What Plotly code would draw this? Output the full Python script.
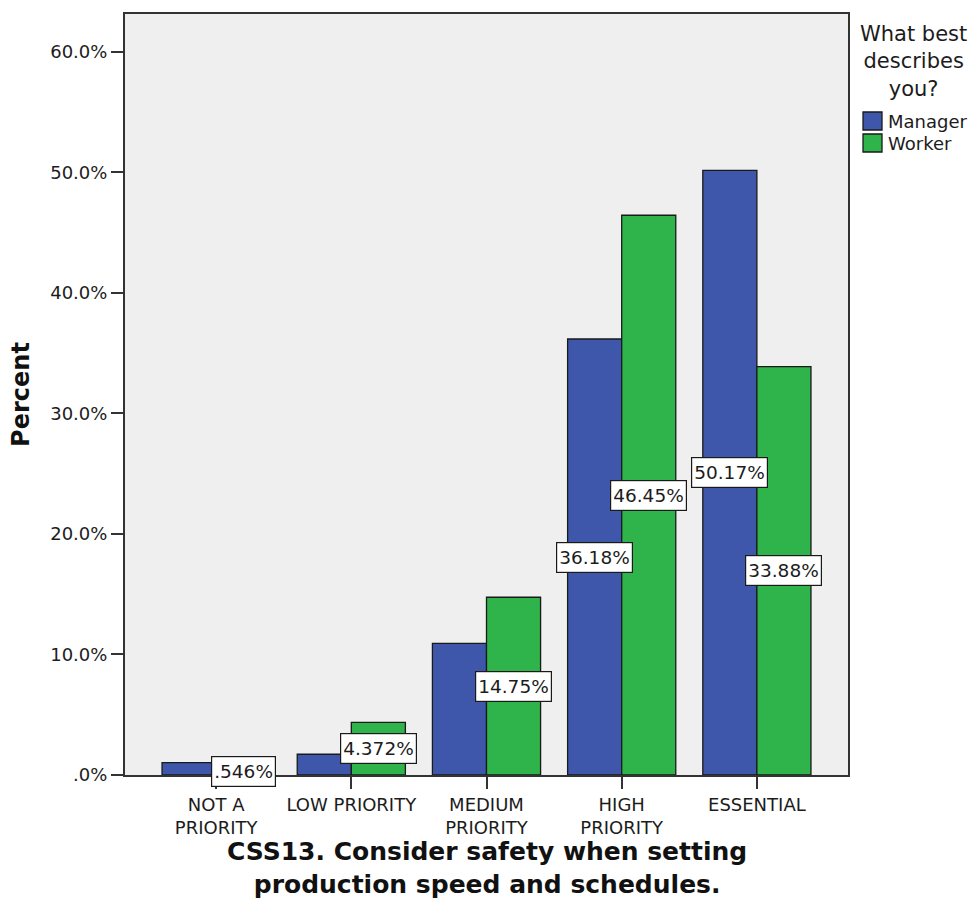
import plotly.graph_objects as go

# Response categories (x axis) and percentages per respondent group
categories = ["NOT A<br>PRIORITY", "LOW PRIORITY", "MEDIUM<br>PRIORITY", "HIGH<br>PRIORITY", "ESSENTIAL"]
manager_pct = [1.02, 1.72, 10.93, 36.18, 50.17]
worker_pct = [0.546, 4.372, 14.75, 46.45, 33.88]

# Which bars carry a value label
manager_labelled = [False, False, False, True, True]
worker_labelled = [True, True, True, True, True]

y_ticks = [0, 10, 20, 30, 40, 50, 60]
y_ticktext = [".0%", "10.0%", "20.0%", "30.0%", "40.0%", "50.0%", "60.0%"]

series_names = ["Manager", "Worker"]
legend_title = "What best<br>describes<br>you?"
x_title = "CSS13. Consider safety when setting<br>production speed and schedules."

MANAGER_COLOR = "#3E57AA"
WORKER_COLOR = "#2EB44A"
FONT = "DejaVu Sans"
INK = "#1c1c1c"
OUTLINE = "#1a1a1a"

# Plot-area geometry in pixels (used to place legend and title in paper units)
W, H = 976, 901
M_L, M_R, M_T, M_B = 125, 128, 14, 126
PW, PH = W - M_L - M_R, H - M_T - M_B


def px_x(p):
    return (p - M_L) / PW


def px_y(p):
    return (H - M_B - p) / PH


def pct_label(v):
    s = f"{v:.4g}"
    if s.startswith("0."):
        s = s[1:]
    return s + "%"


colors = [MANAGER_COLOR, WORKER_COLOR]

fig = go.Figure()
for name, vals, col in zip(series_names, (manager_pct, worker_pct), colors):
    fig.add_trace(go.Bar(
        name=name, x=categories, y=vals, showlegend=False,
        marker=dict(color=col, line=dict(color=OUTLINE, width=1.3)),
    ))

# Boxed value labels at half the bar height, centred on each bar
annotations = []
for series, flags, offset in ((manager_pct, manager_labelled, -0.2),
                              (worker_pct, worker_labelled, 0.2)):
    for i, (v, show) in enumerate(zip(series, flags)):
        if not show:
            continue
        annotations.append(dict(
            x=i + offset, y=v / 2, xref="x", yref="y",
            text=pct_label(v), showarrow=False,
            font=dict(family=FONT, size=18.5, color=INK),
            height=25, borderpad=2,
            bgcolor="white", bordercolor=OUTLINE, borderwidth=1.2,
        ))

# Legend: centred title, square swatches with item names
annotations.append(dict(
    x=px_x(914), y=px_y(62), xref="paper", yref="paper",
    text=legend_title, showarrow=False, align="center",
    xanchor="center", yanchor="middle",
    font=dict(family=FONT, size=21, color=INK),
))
shapes = []
item_centres = [121, 143]
for name, col, cy in zip(series_names, colors, item_centres):
    shapes.append(dict(
        type="rect", xref="paper", yref="paper",
        x0=px_x(863), x1=px_x(882), y0=px_y(cy + 9), y1=px_y(cy - 9),
        fillcolor=col, line=dict(color=OUTLINE, width=1.3),
    ))
    annotations.append(dict(
        x=px_x(886), y=px_y(cy), xref="paper", yref="paper",
        text=name, showarrow=False, xanchor="left", yanchor="middle",
        font=dict(family=FONT, size=18, color=INK),
    ))

# Two-line bold x-axis title below the category labels
annotations.append(dict(
    x=0.5, y=px_y(900), xref="paper", yref="paper",
    text=f"<b>{x_title}</b>", showarrow=False, align="center",
    xanchor="center", yanchor="bottom", borderpad=0,
    font=dict(family=FONT, size=25, color="#111111"),
))

fig.update_layout(
    width=W, height=H,
    margin=dict(l=M_L, r=M_R, t=M_T, b=M_B, autoexpand=False),
    paper_bgcolor="white", plot_bgcolor="#EFEFEF",
    barmode="group", bargap=0.2, bargroupgap=0,
    font=dict(family=FONT, color=INK),
    annotations=annotations,
    shapes=shapes,
    showlegend=False,
)

fig.update_xaxes(
    range=[-0.674, 4.674],
    showline=True, linecolor="#333333", linewidth=2, mirror=True,
    ticks="outside", ticklen=12, tickcolor="#333333", tickwidth=1.5,
    tickfont=dict(family=FONT, size=18, color=INK),
    showgrid=False, zeroline=False,
)
fig.update_yaxes(
    range=[0, 63.15],
    tickvals=y_ticks, ticktext=y_ticktext,
    showline=True, linecolor="#333333", linewidth=2, mirror=True,
    ticks="outside", ticklen=12, tickcolor="#333333", tickwidth=1.5,
    tickfont=dict(family=FONT, size=18, color=INK),
    showgrid=False, zeroline=False,
    title=dict(text="<b>Percent</b>", font=dict(family=FONT, size=24, color="#111111"), standoff=14),
)

fig.write_html("out.html")
